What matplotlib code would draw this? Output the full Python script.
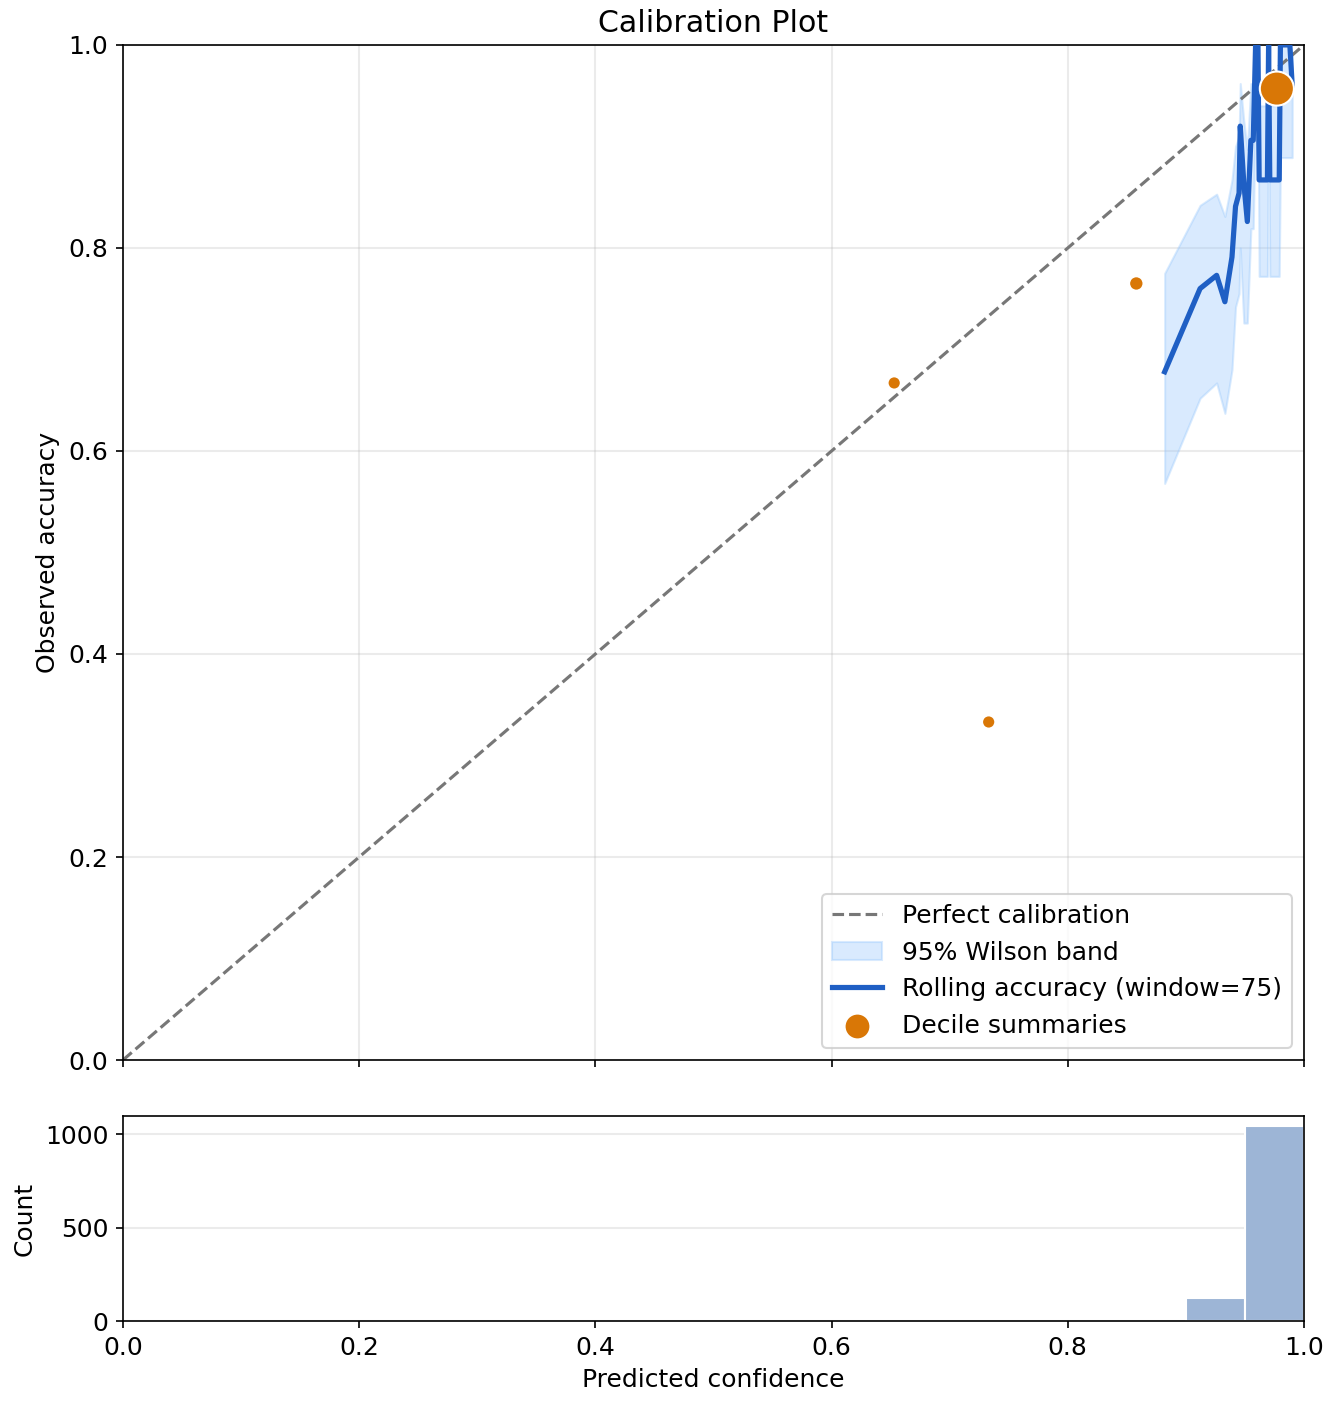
import numpy as np
import matplotlib
matplotlib.use("Agg")
import matplotlib.pyplot as plt

plt.rcParams['font.size'] = 12

# rolling accuracy (window=75) with 95% Wilson band
roll_x = [0.882, 0.912, 0.926, 0.933, 0.939, 0.942, 0.945, 0.946, 0.949, 0.952, 0.955,
          0.957, 0.959, 0.961, 0.962, 0.969, 0.970, 0.971, 0.979, 0.980, 0.981, 0.988, 0.990]
roll_acc = [0.678, 0.760, 0.773, 0.747, 0.791, 0.841, 0.854, 0.920, 0.864, 0.826, 0.906,
            0.906, 1.000, 1.000, 0.867, 0.867, 1.000, 0.867, 0.867, 1.000, 1.000, 1.000, 0.960]
band_lo = [0.568, 0.652, 0.667, 0.637, 0.680, 0.742, 0.755, 0.800, 0.726, 0.726, 0.819,
           0.819, 0.951, 0.951, 0.772, 0.772, 0.951, 0.772, 0.772, 0.889, 0.889, 0.889, 0.889]
band_hi = [0.775, 0.842, 0.853, 0.831, 0.867, 0.900, 0.910, 0.962, 0.925, 0.897, 0.962,
           0.962, 1.000, 1.000, 0.940, 0.940, 1.000, 0.940, 0.940, 1.000, 1.000, 1.000, 0.990]

# decile summaries
dec_conf = [0.653, 0.733, 0.858, 0.977]
dec_acc = [0.667, 0.333, 0.765, 0.957]
dec_n = [3, 3, 40, 1140]

# histogram of predicted confidence
hist_left = [0.90, 0.95]
hist_count = [122, 1045]
bin_w = 0.05

fig = plt.figure(figsize=(8.88, 9.36), dpi=150)
ax = fig.add_axes([0.0923, 0.245, 0.8867, 0.723])
axh = fig.add_axes([0.0923, 0.059, 0.8867, 0.146], sharex=ax)

grid_kw = dict(color='#b0b0b0', alpha=0.25, lw=1)

ax.plot([0, 1], [0, 1], ls='--', color='#777777', lw=1.5, label='Perfect calibration', zorder=2)
ax.fill_between(roll_x, band_lo, band_hi, color='#93c5fd', alpha=0.35, lw=1,
                label='95% Wilson band', zorder=1)
ax.plot(roll_x, roll_acc, color='#1f5fc4', lw=2.5, label='Rolling accuracy (window=75)', zorder=3)
sizes = [40 + 0.2 * n for n in dec_n]
ax.scatter(dec_conf, dec_acc, s=sizes, color='#d97706', edgecolor='white', lw=1,
           label='Decile summaries', zorder=4)

ax.set_xlim(0, 1)
ax.set_ylim(0, 1)
ax.set_ylabel('Observed accuracy')
ax.set_title('Calibration Plot')
ax.grid(True, **grid_kw)
ax.set_axisbelow(True)
ax.tick_params(labelbottom=False)
ax.legend(loc='lower right')

axh.bar(hist_left, hist_count, width=bin_w, align='edge', color='#9db5d6',
        edgecolor='white', lw=1)
axh.set_xlim(0, 1)
axh.set_xlabel('Predicted confidence')
axh.set_ylabel('Count')
axh.set_yticks([0, 500, 1000])
axh.grid(True, axis='y', **grid_kw)
axh.set_axisbelow(True)

fig.savefig('out.png', dpi=150)
